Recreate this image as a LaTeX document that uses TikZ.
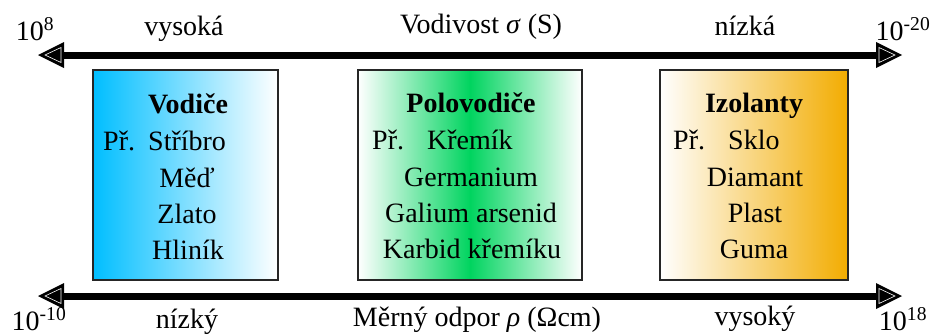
\documentclass[tikz,border=0pt]{standalone}
\usepackage{fontspec}
\setmainfont{LiberationSerif}[Extension=.ttf, UprightFont=*-Regular, BoldFont=*-Bold, ItalicFont=*-Italic, BoldItalicFont=*-BoldItalic]
\begin{document}
\begin{tikzpicture}[x=1pt,y=-1pt,
  lbl/.style={font=\fontsize{28}{30}\selectfont, inner sep=0pt, anchor=base},
  lblw/.style={lbl, anchor=base west},
  hdr/.style={lbl, font=\fontsize{28}{30}\selectfont\bfseries},
  axis/.style={line width=7pt},
  boxframe/.style={draw=black!85, line width=2pt}]
\definecolor{cblue}{RGB}{0,190,255}
\definecolor{cgreen}{RGB}{0,212,95}
\definecolor{corange}{RGB}{242,172,0}
\useasboundingbox (0,0) rectangle (930,335);

% arrows
\coordinate (tl) at (60,55);
\coordinate (tr) at (880,55);
\coordinate (bl) at (60,296);
\coordinate (br) at (880,296);
\draw[axis] (tl) -- (tr);
\draw[axis] (bl) -- (br);
\foreach \y in {55,296}{
  \fill (38,\y) -- (64,\y-13) -- (64,\y+13) -- cycle;
  \draw[white, line width=0.6pt] (45,\y) -- (61,\y-7.5) -- (61,\y+7.5) -- cycle;
  \fill (902,\y) -- (876,\y-13) -- (876,\y+13) -- cycle;
  \draw[white, line width=0.6pt] (895,\y) -- (879,\y-7.5) -- (879,\y+7.5) -- cycle;
}

% axis labels
\node[lbl] (t1) at (35,40) {10\textsuperscript{8}};
\node[lbl] (t2) at (184,35) {vysoká};
\node[lbl] (t3) at (481,33) {Vodivost \textit{σ} (S)};
\node[lbl] (t4) at (745,35) {nízká};
\node[lbl] (t5) at (903,40) {10\textsuperscript{-20}};
\node[lbl] (b1) at (39,330) {10\textsuperscript{-10}};
\node[lbl] (b2) at (187,328) {nízký};
\node[lbl] (b3) at (477,326) {Měrný odpor \textit{ρ} (Ωcm)};
\node[lbl] (b4) at (755,325) {vysoký};
\node[lbl] (b5) at (903,330) {10\textsuperscript{18}};

% boxes
\shade[left color=cblue, right color=white] (93,70) rectangle (278,280);
\draw[boxframe] (93,70) rectangle (278,280);
\shade[left color=white, right color=white, middle color=cgreen] (358,70) rectangle (582,280);
\draw[boxframe] (358,70) rectangle (582,280);
\shade[left color=white, right color=corange] (660,70) rectangle (848,280);
\draw[boxframe] (660,70) rectangle (848,280);

% box 1
\node[hdr] (v0) at (188,113) {Vodiče};
\node[lblw] (v1a) at (103,150) {Př.};
\node[lblw] (v1b) at (148,150) {Stříbro};
\node[lbl] (v2) at (187,187) {Měď};
\node[lbl] (v3) at (187,223) {Zlato};
\node[lbl] (v4) at (188,259) {Hliník};

% box 2
\node[hdr] (p0) at (471,112) {Polovodiče};
\node[lblw] (p1a) at (372,149) {Př.};
\node[lblw] (p1b) at (427,149) {Křemík};
\node[lbl] (p2) at (471,186) {Germanium};
\node[lbl] (p3) at (471,222) {Galium arsenid};
\node[lbl] (p4) at (472,258) {Karbid křemíku};

% box 3
\node[hdr] (i0) at (754,112) {Izolanty};
\node[lblw] (i1a) at (673,149) {Př.};
\node[lblw] (i1b) at (728,149) {Sklo};
\node[lbl] (i2) at (755,186) {Diamant};
\node[lbl] (i3) at (755,222) {Plast};
\node[lbl] (i4) at (754,258) {Guma};
\end{tikzpicture}
\end{document}
